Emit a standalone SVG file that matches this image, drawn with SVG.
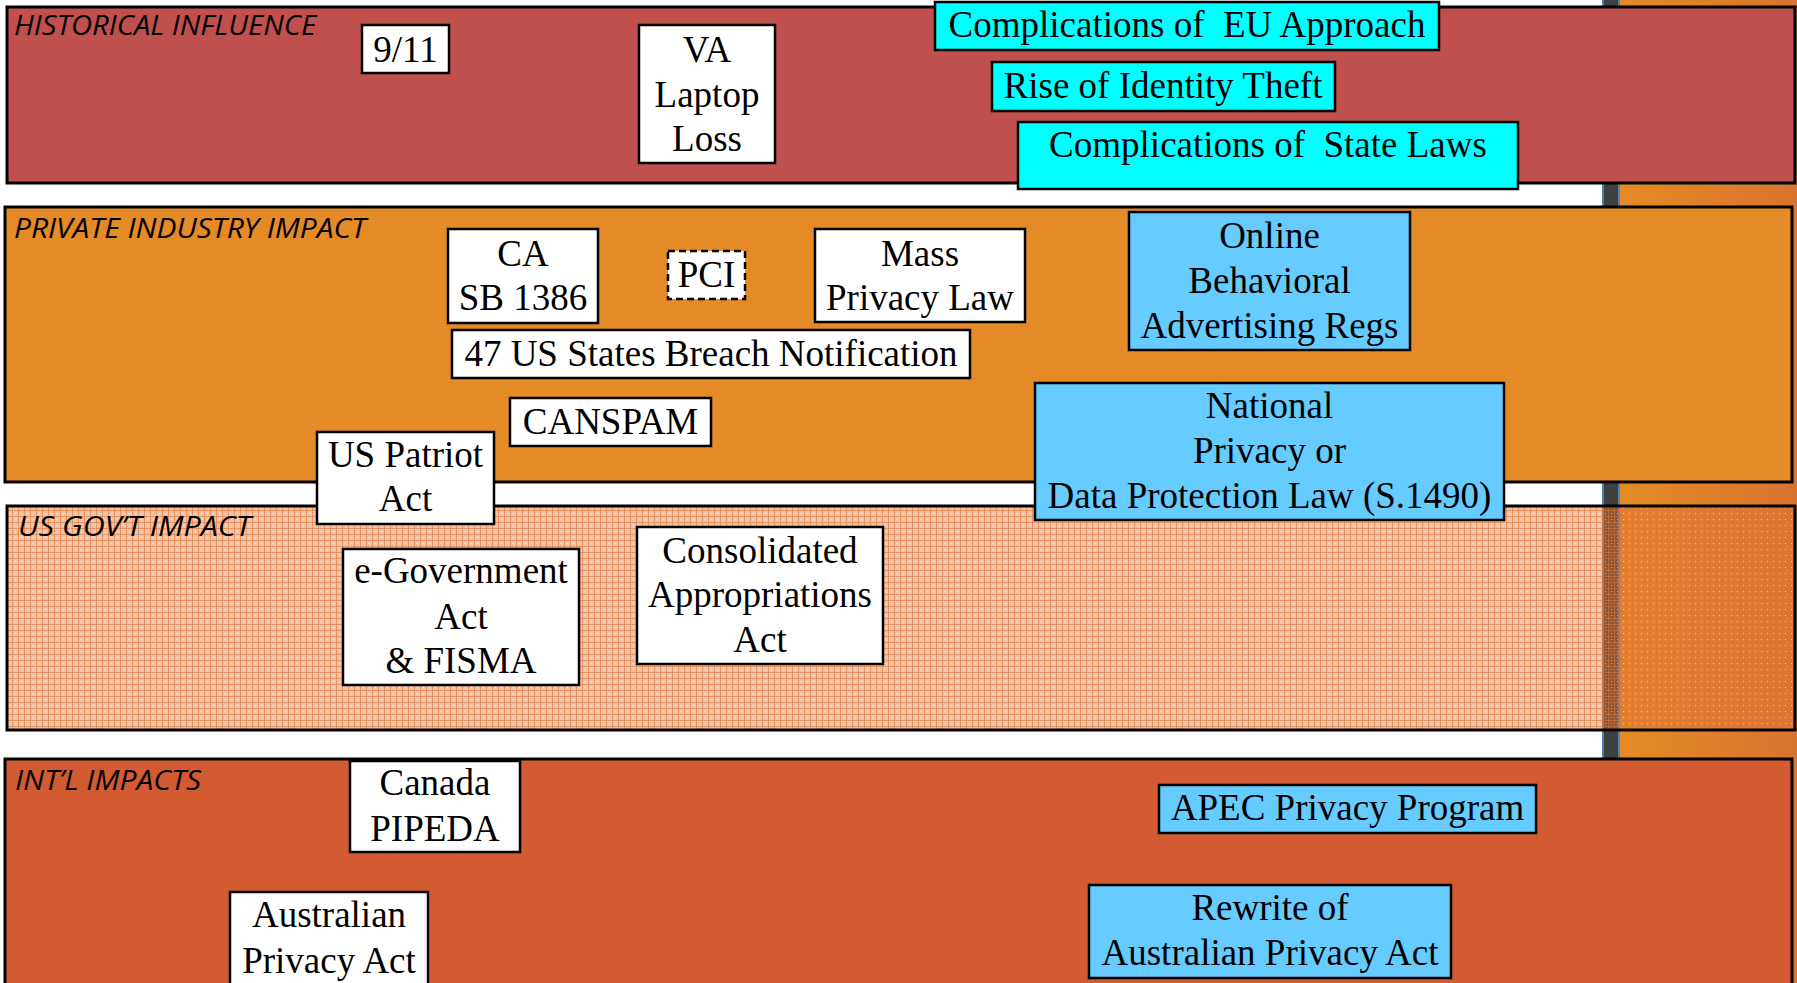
<svg xmlns="http://www.w3.org/2000/svg" width="1797" height="983" viewBox="0 0 1797 983">
<defs>
<linearGradient id="strip" x1="0" y1="0" x2="1" y2="0">
<stop offset="0" stop-color="#E48B25"/>
<stop offset="1" stop-color="#D9742F"/>
</linearGradient>
<pattern id="grid" patternUnits="userSpaceOnUse" width="6" height="6">
<rect width="6" height="6" fill="#E2783A" fill-opacity="0.45"/>
<path d="M0 0.5H6M0.5 0V6" stroke="#DE7432" stroke-width="1" stroke-opacity="0.55"/>
<rect x="3" y="3" width="1" height="1" fill="#ffffff" fill-opacity="0.5"/>
</pattern>
</defs>
<style>
.band{stroke:#000;stroke-width:3}
.lbl{font-family:"Open Sans",Lato,sans-serif;font-style:italic;font-size:28px;fill:#000}
.box{stroke:#000;stroke-width:2.5}
.w{fill:#fff}
.c{fill:#00FFFF}
.b{fill:#66CCFF}
.t{font-family:"Liberation Serif","Times New Roman",serif;font-size:37px;fill:#000;text-anchor:middle}
</style>
<rect width="1797" height="983" fill="#fff"/>
<g id="side-strip">
<rect x="1620" y="0" width="177" height="983" fill="url(#strip)"/>
<rect x="1602" y="0" width="18" height="983" fill="#4F81BD"/>
<rect x="1604" y="0" width="14" height="983" fill="#404040"/>
</g>
<g id="band-historical">
<rect class="band" x="7" y="7" width="1788" height="176" fill="#C0504D"/>
<text class="lbl" x="14" y="35" textLength="302" lengthAdjust="spacingAndGlyphs">HISTORICAL INFLUENCE</text>
</g>
<g id="band-private">
<rect class="band" x="5" y="207" width="1787" height="275" fill="#E48A26"/>
<text class="lbl" x="14" y="238" textLength="352" lengthAdjust="spacingAndGlyphs">PRIVATE INDUSTRY IMPACT</text>
</g>
<g id="band-usgov">
<rect class="band" x="7" y="506" width="1788" height="224" fill="url(#grid)"/>
<text class="lbl" x="18" y="536" textLength="233" lengthAdjust="spacingAndGlyphs">US GOV’T IMPACT</text>
</g>
<g id="band-intl">
<rect class="band" x="5" y="759" width="1787" height="230" fill="#D25B31"/>
<text class="lbl" x="15" y="790" textLength="186" lengthAdjust="spacingAndGlyphs">INT’L IMPACTS</text>
</g>
<g id="connectors"></g>
<g id="n-911"><rect class="box w" x="362" y="25" width="87" height="48"/><text class="t" x="405.5" y="62">9/11</text></g>
<g id="n-va"><rect class="box w" x="639" y="25" width="136" height="138"/><text class="t" x="707" y="62">VA</text><text class="t" x="707" y="107">Laptop</text><text class="t" x="707" y="151">Loss</text></g>
<g id="n-eu"><rect class="box c" x="935" y="2" width="504" height="48"/><text class="t" x="1187" y="37" xml:space="preserve">Complications of  EU Approach</text></g>
<g id="n-identity"><rect class="box c" x="992" y="62" width="343" height="49"/><text class="t" x="1163" y="98">Rise of Identity Theft</text></g>
<g id="n-state"><rect class="box c" x="1018" y="122" width="500" height="67"/><text class="t" x="1268" y="157" xml:space="preserve">Complications of  State Laws</text></g>
<g id="n-ca"><rect class="box w" x="448" y="229" width="150" height="94"/><text class="t" x="523" y="266">CA</text><text class="t" x="523" y="310">SB 1386</text></g>
<g id="n-pci"><rect class="box w" x="668" y="251" width="77" height="48" stroke-dasharray="7 4"/><text class="t" x="706.5" y="287">PCI</text></g>
<g id="n-mass"><rect class="box w" x="815" y="229" width="210" height="93"/><text class="t" x="920" y="266">Mass</text><text class="t" x="920" y="310">Privacy Law</text></g>
<g id="n-47"><rect class="box w" x="452" y="330" width="518" height="48"/><text class="t" x="711" y="366">47 US States Breach Notification</text></g>
<g id="n-canspam"><rect class="box w" x="510" y="398" width="201" height="48"/><text class="t" x="610.5" y="434">CANSPAM</text></g>
<g id="n-online"><rect class="box b" x="1129" y="212" width="281" height="138"/><text class="t" x="1269.5" y="248">Online</text><text class="t" x="1269.5" y="293">Behavioral</text><text class="t" x="1269.5" y="338">Advertising Regs</text></g>
<g id="n-national"><rect class="box b" x="1035" y="383" width="469" height="137"/><text class="t" x="1269.5" y="418">National</text><text class="t" x="1269.5" y="463">Privacy or</text><text class="t" x="1269.5" y="508">Data Protection Law (S.1490)</text></g>
<g id="n-patriot"><rect class="box w" x="317" y="432" width="177" height="92"/><text class="t" x="405.5" y="467">US Patriot</text><text class="t" x="405.5" y="511">Act</text></g>
<g id="n-egov"><rect class="box w" x="343" y="549" width="236" height="136"/><text class="t" x="461" y="583">e-Government</text><text class="t" x="461" y="629">Act</text><text class="t" x="461" y="673">&amp; FISMA</text></g>
<g id="n-consolidated"><rect class="box w" x="637" y="527" width="246" height="137"/><text class="t" x="760" y="563">Consolidated</text><text class="t" x="760" y="607">Appropriations</text><text class="t" x="760" y="652">Act</text></g>
<g id="n-canada"><rect class="box w" x="350" y="761" width="170" height="91"/><text class="t" x="435" y="795">Canada</text><text class="t" x="435" y="841">PIPEDA</text></g>
<g id="n-australian"><rect class="box w" x="230" y="892" width="198" height="98"/><text class="t" x="329" y="927">Australian</text><text class="t" x="329" y="973">Privacy Act</text></g>
<g id="n-apec"><rect class="box b" x="1159" y="785" width="377" height="48"/><text class="t" x="1347.5" y="820">APEC Privacy Program</text></g>
<g id="n-rewrite"><rect class="box b" x="1089" y="885" width="362" height="93"/><text class="t" x="1270" y="920">Rewrite of</text><text class="t" x="1270" y="965">Australian Privacy Act</text></g>
</svg>
